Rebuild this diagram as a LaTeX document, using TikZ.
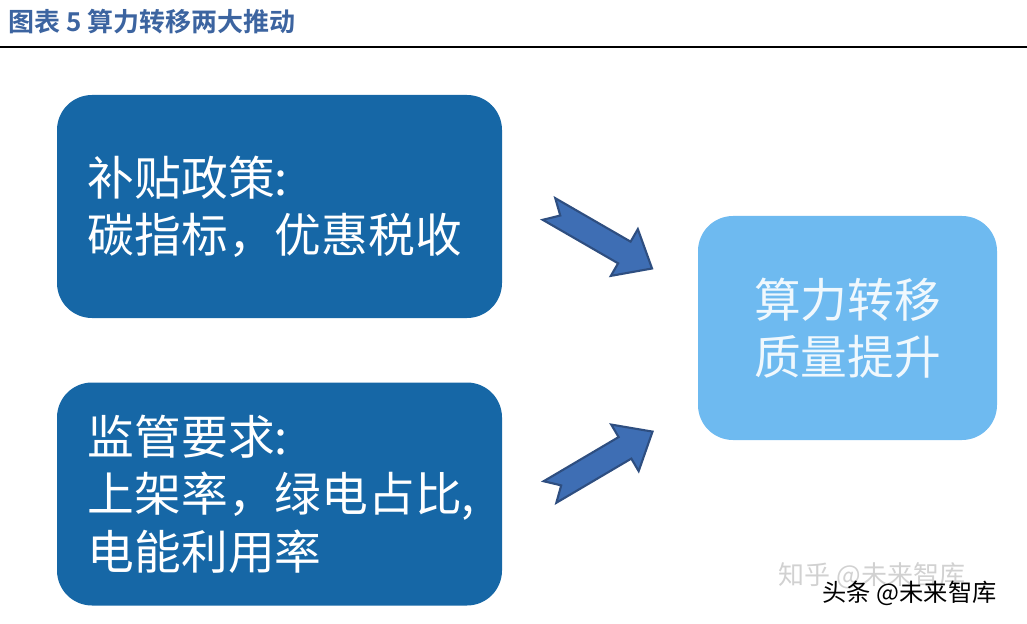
\documentclass[tikz,border=0pt]{standalone}
\usepackage{fontspec}
\newfontfamily\cjk[BoldFont={Noto Sans CJK SC Bold}]{Noto Sans CJK SC}
\definecolor{darkbox}{RGB}{22,103,166}
\definecolor{lightbox}{RGB}{110,186,240}
\definecolor{arrowfill}{RGB}{62,110,180}
\definecolor{arrowdraw}{RGB}{46,78,128}
\definecolor{titleblue}{RGB}{60,100,160}
\begin{document}
\begin{tikzpicture}[
        box/.style={rectangle,rounded corners=0.35cm,inner sep=0pt,text=white,
            font=\cjk\fontsize{13.3}{16.3}\selectfont},
        dark/.style={box,fill=darkbox,minimum width=4.45cm,minimum height=2.23cm},
        light/.style={box,fill=lightbox,minimum width=2.99cm,minimum height=2.24cm,text=white!90!lightbox},
        bigarrow/.style={fill=arrowfill,draw=arrowdraw,line width=0.6pt,line join=miter}
        ]
        \useasboundingbox (0,0) rectangle (10.27,6.23);
        \node (title) [anchor=west,text=titleblue,font=\cjk\bfseries\fontsize{7.4}{8}\selectfont,inner sep=0pt]
            at (0.08,6.01) {图表 5 算力转移两大推动};
        \draw[line width=0.6pt] (0,5.76) -- (10.27,5.76);
        \node (subsidy) [dark] at (2.795,4.165)
            {\begin{minipage}{3.83cm}\raggedright 补贴政策:\\碳指标，优惠税收\end{minipage}};
        \node (rules) [dark] at (2.795,1.29)
            {\begin{minipage}{3.83cm}\raggedright 监管要求:\\上架率，绿电占比,\\电能利用率\end{minipage}};
        \node (move) [light,align=center] at (8.475,2.95) {算力转移\\质量提升};
        % block arrows
        \coordinate (a1) at (5.49,4.14);
        \coordinate (a2) at (5.50,1.31);
        \foreach \pt/\ang in {a1/-30, a2/30.5}
            \draw[bigarrow,shift={(\pt)},rotate=\ang]
                (0,0.125) -- (0.87,0.125) -- (0.87,0.27) -- (1.19,0) -- (0.87,-0.27)
                -- (0.87,-0.125) -- (0,-0.125) -- (0.13,0) -- cycle;
        % watermark
        \node (zhihu) [anchor=west,text=black!18,font=\cjk\fontsize{7.4}{8}\selectfont,inner sep=0pt]
            at (7.78,0.47) {知乎 @未来智库};
        \node (toutiao) [anchor=west,text=black,font=\cjk\fontsize{6.9}{8}\selectfont,inner sep=0pt]
            at (8.22,0.30) {头条 @未来智库};
    \end{tikzpicture}
\end{document}
